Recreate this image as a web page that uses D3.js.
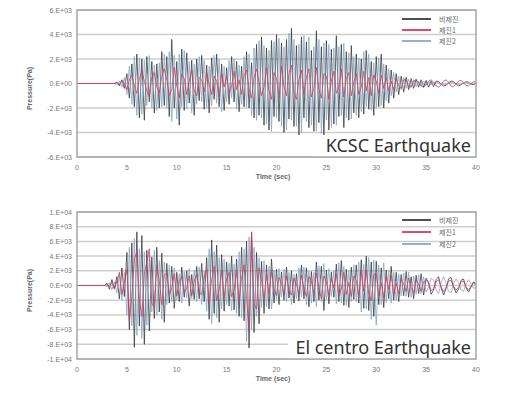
<!DOCTYPE html>
<html>
<head>
<meta charset="utf-8">
<script src="https://cdn.jsdelivr.net/npm/d3@7"></script>
<style>
  body { margin: 0; background: #fff; }
  text { font-family: "Liberation Sans", Arial, sans-serif; }
</style>
</head>
<body>
<div id="chart"></div>
<script>
// sample step of the digitised records (sec)
const DT = 0.25;

const seriesNames = ['비제진', '제진1', '제진2'];
const xTicks = [0, 5, 10, 15, 20, 25, 30, 35, 40];

// KCSC record, values in kPa (x1E+03 Pa)
const kcscTickVals = [6, 4, 2, 0, -2, -4, -6];
const kcscTickLabels = ['6.E+03', '4.E+03', '2.E+03', '0.E+00', '-2.E+03', '-4.E+03', '-6.E+03'];
const kcscBase = [
  0,0,0,0,0,0,0,0,0,0,0,0,0,0,0,0,
  0.1,-0.2,0.3,-0.4, 0.8,-1.2,1.6,-1.9, 2.4,-2.8,2.0,-3.0, 2.2,-1.5,1.8,-2.4,
  1.6,-2.0,2.6,-1.8, 2.2,-2.7,3.6,-2.0, 1.8,-3.4,2.8,-2.2, 2.5,-1.6,1.9,-2.6,
  2.0,-1.4,2.3,-2.1, 1.5,-2.4,2.1,-1.3, 2.4,-1.9,1.6,-2.2, 1.3,-1.7,2.2,-1.5,
  1.8,-2.3,1.4,-1.9, 2.6,-2.0,1.7,-2.8, 3.2,-2.6,3.8,-3.4, 2.9,-3.8,3.5,-2.7,
  4.0,-3.1,3.3,-4.0, 3.6,-2.9,4.5,-3.5, 3.1,-4.2,3.8,-2.8, 3.4,-3.6,2.7,-3.9,
  4.3,-3.2,3.0,-4.4, 3.5,-3.8,2.8,-3.3, 3.9,-2.7,3.2,-3.6, 2.6,-3.0,3.1,-2.4,
  2.4,-2.8,2.0,-2.5, 2.7,-2.1,1.8,-2.6, 2.2,-1.9,2.4,-2.0, 1.5,-1.6,1.1,-1.2,
  0.8,-0.9,0.6,-0.7, 0.5,-0.5,0.4,-0.4, 0.35,-0.3,0.3,-0.3, 0.25,-0.3,0.2,-0.25,
  0.2,0.15,-0.05,-0.2,-0.15,0.05,0.2,0.15,-0.05,-0.2,-0.1,0.05,0.15,0.1,-0.05,-0.1,0
];
const kcscCtrl1 = [
  0,0,0,0,0,0,0,0,0,0,0,0,0,0,0,0,
  0.1,-0.1,0.25,0.05, -0.5,0.3,0.7,-0.2, -0.8,0.4,1.0,0.2, -0.6,-1.1,0.5,0.9,
  -0.3,-0.8,0.6,1.2, 0.3,-1.0,-0.5,1.3, -0.2,-1.2,0.8,0.4, -0.9,0.2,1.1,-0.6,
  -1.0,0.5,0.3,-0.7, 0.9,-0.1,-0.9,0.6, 0.2,-1.1,0.8,-0.3, 0.6,-0.8,-0.2,1.0,
  -0.5,0.3,-0.9,0.7, 1.1,-0.4,-1.2,0.5, 1.2,0.1,-1.0,-0.3, 1.3,-0.6,-1.3,0.9,
  0.4,-1.2,1.4,-0.2, -1.0,0.8,1.5,-0.7, -1.3,0.3,1.1,-0.9, 0.5,1.2,-1.1,-0.4,
  1.3,-0.5,-1.2,0.8, 0.6,-1.3,0.2,1.0, -0.8,-0.3,1.2,-1.1, 0.4,0.9,-1.0,0.1,
  0.8,-0.9,-0.3,1.0, -0.6,0.5,-1.0,0.7, 0.2,-0.8,0.7,-0.4, 0.5,-0.6,0.2,-0.5,
  0.4,-0.2,-0.4,0.3, 0.3,-0.25,-0.3,0.2, 0.3,0.1,-0.2,-0.3, -0.1,0.2,0.3,0.1,
  -0.2,-0.3,-0.1,0.2,0.3,0.1,-0.2,-0.25,-0.05,0.2,0.25,0.05,-0.15,-0.2,0,0.15,0.1
];
const kcscCtrl2 = [
  0,0,0,0,0,0,0,0,0,0,0,0,0,0,0,0,
  -0.1,0.2,-0.3,0.5, -0.9,1.4,-1.7,2.2, -2.6,2.1,-2.5,1.9, -1.8,2.3,-2.0,1.5,
  -2.2,1.7,-1.9,2.4, -2.0,2.6,-3.1,2.3, -2.9,2.4,-1.9,2.7, -2.1,1.8,-2.4,1.6,
  -1.7,2.2,-1.5,1.9, -2.0,1.4,-1.8,2.3, -1.6,2.0,-2.3,1.4, -1.5,1.9,-1.2,2.0,
  -2.1,1.5,-1.7,2.2, -1.9,2.4,-2.6,2.9, -3.0,3.5,-2.8,3.1, -3.3,2.7,-3.9,3.4,
  -2.8,3.7,-3.5,3.0, -3.8,4.1,-3.0,3.6, -3.5,3.2,-4.0,3.9, -3.1,3.8,-3.4,3.0,
  -3.9,3.6,-4.1,3.3, -3.0,3.2,-3.6,2.9, -3.4,3.0,-2.6,3.3, -2.8,2.5,-2.9,2.2,
  -2.6,2.1,-2.3,2.6, -1.9,2.4,-2.2,1.7, -2.0,2.1,-1.8,1.6, -1.4,1.2,-1.0,0.9,
  -0.7,0.6,-0.5,0.5, -0.4,0.35,-0.3,0.3, -0.25,0.2,-0.2,0.2, -0.15,0.15,-0.1,0.1,
  0.1,0.05,-0.05,-0.1,-0.05,0.05,0.1,0.05,-0.05,-0.1,-0.05,0.05,0.1,0.05,0,-0.05,0
];

// El centro record, values in kPa
const elcTickVals = [10, 8, 6, 4, 2, 0, -2, -4, -6, -8, -10];
const elcTickLabels = ['1.E+04', '8.E+03', '6.E+03', '4.E+03', '2.E+03', '0.E+00',
  '-2.E+03', '-4.E+03', '-6.E+03', '-8.E+03', '-1.E+04'];
const elcBase = [
  0,0,0,0,0,0,0,0,0,0,0,0,
  0.3,-0.5,0.8,-0.4, 1.2,-1.8,2.4,-1.5, 4.5,-6.0,5.8,-8.4, 7.3,-5.5,6.8,-8.0,
  4.8,-6.2,3.9,-4.5, 5.2,-3.6,4.4,-5.0, 3.0,-2.4,2.6,-3.1, 1.8,-2.2,2.5,-1.6,
  2.0,-2.8,1.5,-1.9, 2.6,-1.8,3.0,-2.2, 3.8,-4.6,6.2,-3.8, 5.5,-5.0,4.2,-3.5,
  3.2,-2.8,4.0,-3.3, 3.6,-4.2,5.2,-4.8, 6.0,-8.5,7.3,-6.4, 4.5,-5.2,3.3,-3.8,
  2.8,-3.2,3.6,-2.4, 2.2,-2.6,1.8,-2.0, 2.5,-1.7,2.0,-2.4, 1.6,-2.1,2.8,-1.8,
  2.4,-2.9,1.9,-2.2, 3.2,-2.0,2.6,-3.4, 2.1,-2.5,1.8,-1.6, 2.9,-2.2,3.4,-2.7,
  2.2,-3.0,2.5,-1.9, 2.8,-2.4,3.5,-3.1, 4.0,-3.4,3.2,-4.2, 3.3,-2.6,2.4,-3.0,
  2.1,-1.8,2.6,-2.0, 1.8,-2.2,1.5,-1.4, 1.9,-1.6,1.2,-1.8, 1.4,-1.1,1.6,-1.3,
  1.0,0.4,-1.2,-0.6, 0.8,1.2,-0.3,-1.3, -0.4,0.9,1.1,-0.2, -1.0,-0.5,0.7,0.9,
  -0.3,-0.9,-0.2,0.5, 0.2
];
const elcCtrl1 = [
  0,0,0,0,0,0,0,0,0,0,0,0,
  0.2,-0.1,0.4,-0.5, 0.6,1.8,-1.2,0.4, 2.2,-4.8,-1.5,3.6, 4.6,-2.0,-4.2,1.5,
  3.2,5.0,-2.4,-3.0, 2.8,0.6,-2.6,1.4, 1.8,-1.2,-0.4,1.6, -1.4,0.5,1.2,-1.0,
  -0.3,1.3,-1.4,0.6, 1.5,-0.8,-1.3,1.1, 2.2,-2.4,0.8,2.6, -2.1,-0.6,2.0,-1.7,
  0.9,1.8,-1.5,-0.6, 2.0,-2.3,1.0,2.8, -1.8,-6.0,7.2,-2.5, -3.2,2.4,0.8,-2.0,
  1.6,-1.2,1.9,-0.5, -1.4,1.1,0.3,-1.2, 1.3,-0.6,-1.3,1.0, 0.2,-1.2,1.4,-0.4,
  -1.5,1.2,0.6,-1.1, 1.7,-0.4,-1.8,1.3, 0.5,-1.3,1.0,-0.3, 1.6,-1.5,-0.5,1.8,
  -1.2,0.4,-1.5,1.3, 0.7,-1.6,1.9,-0.8, 2.0,-1.1,-2.1,1.5, 1.6,-1.4,0.4,-1.7,
  1.2,-0.5,1.4,-1.2, 0.3,-1.1,0.9,0.2, -0.8,1.0,-0.4,-1.0, 0.8,0.2,-0.8,0.5,
  0.7,0.3,-0.7,-0.4, 0.5,0.8,-0.2,-0.8, -0.3,0.6,0.7,-0.1, -0.6,-0.3,0.5,0.6,
  -0.2,-0.6,-0.1,0.3, 0.1
];
const elcCtrl2 = [
  0,0,0,0,0,0,0,0,0,0,0,0,
  -0.2,0.4,-0.6,0.5, -1.0,1.5,-2.0,1.8, -4.0,5.2,-5.5,6.4, -6.8,5.0,-7.2,4.6,
  -5.4,4.2,-3.6,4.8, -4.0,3.4,-4.6,3.2, -2.6,2.8,-2.2,2.4, -2.0,1.6,-2.4,1.9,
  -1.7,2.3,-1.8,2.1, -2.2,2.5,-2.6,2.0, -3.5,5.0,-5.2,4.6, -4.4,3.8,-3.2,3.6,
  -2.6,3.0,-3.4,2.9, -3.8,4.6,-4.4,5.0, -7.6,6.6,-6.0,5.2, -4.2,3.8,-3.0,3.4,
  -2.9,2.6,-3.2,2.1, -1.9,2.3,-1.6,2.2, -2.2,1.8,-2.6,1.5, -1.8,2.4,-1.6,2.5,
  -2.6,2.0,-2.4,1.8, -2.9,2.7,-2.2,3.0, -1.9,2.3,-1.5,2.0, -2.5,3.1,-2.4,2.6,
  -2.7,2.0,-2.2,2.8, -2.2,3.2,-3.6,2.9, -3.2,3.8,-4.6,3.5, -5.4,2.8,-2.6,3.1,
  -2.3,2.0,-2.4,1.8, -2.0,1.6,-1.4,1.7, -1.5,1.8,-1.6,1.3, -1.2,1.5,-1.1,1.2,
  -0.9,-0.2,1.0,0.7, -0.6,-1.1,0.4,1.2, 0.3,-0.8,-1.0,0.3, 0.9,0.4,-0.6,-0.8,
  0.2,0.8,0.3,-0.4, -0.2
];

const WIDTH = 509, HEIGHT = 395;
const COLORS = ['#3c3c3c', '#d9385a', '#86aacb'];

const svg = d3.select('#chart').append('svg')
  .attr('width', WIDTH)
  .attr('height', HEIGHT);

function drawPanel(cfg) {
  const x = d3.scaleLinear().domain([0, 40]).range([77, 476]);
  const y = d3.scaleLinear().domain(cfg.domain).range([cfg.bottom, cfg.top]);
  const g = svg.append('g');

  // horizontal grid
  g.selectAll('line.grid')
    .data(cfg.ticks)
    .enter().append('line')
    .attr('x1', x(0)).attr('x2', x(40))
    .attr('y1', d => y(d)).attr('y2', d => y(d))
    .attr('stroke', '#cdcdcd')
    .attr('stroke-width', 1.5);

  const line = d3.line()
    .x((d, i) => x(i * DT))
    .y(d => y(d));

  // draw order: base, ctrl2, ctrl1 on top
  [[cfg.series[0], COLORS[0], 0.8, 1],
   [cfg.series[2], COLORS[2], 0.9, 0.9],
   [cfg.series[1], COLORS[1], 0.8, 1]].forEach(s => {
    g.append('path')
      .datum(s[0])
      .attr('d', line)
      .attr('fill', 'none')
      .attr('stroke', s[1])
      .attr('stroke-width', s[2])
      .attr('stroke-opacity', s[3]);
  });

  // caption box
  g.append('rect')
    .attr('x', cfg.capX - 4).attr('y', cfg.bottom - 22)
    .attr('width', x(40) - cfg.capX + 4).attr('height', 22)
    .attr('fill', '#fff');
  g.append('text')
    .attr('x', x(40) - 5).attr('y', cfg.bottom - 5)
    .attr('text-anchor', 'end')
    .style('font-family', '"Noto Sans", "Open Sans", sans-serif')
    .style('font-size', '18px')
    .attr('fill', '#333')
    .text(cfg.caption);

  // frame
  g.append('rect')
    .attr('x', x(0)).attr('y', cfg.top)
    .attr('width', x(40) - x(0)).attr('height', cfg.bottom - cfg.top)
    .attr('fill', 'none')
    .attr('stroke', '#a6a6a6')
    .attr('stroke-width', 1.5);

  // y tick labels
  g.selectAll('text.ytick')
    .data(cfg.ticks)
    .enter().append('text')
    .attr('x', 72).attr('y', d => y(d) + 2.5)
    .attr('text-anchor', 'end')
    .style('font-size', '7px')
    .attr('fill', '#777')
    .text((d, i) => cfg.tickLabels[i]);

  // x tick labels
  g.selectAll('text.xtick')
    .data(xTicks)
    .enter().append('text')
    .attr('x', d => x(d)).attr('y', cfg.bottom + 13)
    .attr('text-anchor', 'middle')
    .style('font-size', '7px')
    .attr('fill', '#777')
    .text(d => d);

  g.append('text')
    .attr('x', 273).attr('y', cfg.bottom + 22)
    .attr('text-anchor', 'middle')
    .style('font-size', '7px')
    .style('font-weight', 'bold')
    .attr('fill', '#666')
    .text('Time (sec)');

  const mid = (cfg.top + cfg.bottom) / 2;
  g.append('text')
    .attr('transform', `translate(32,${mid + 5}) rotate(-90)`)
    .attr('text-anchor', 'middle')
    .style('font-size', '7px')
    .style('font-weight', 'bold')
    .attr('fill', '#666')
    .text('Pressure(Pa)');

  // legend
  seriesNames.forEach((name, i) => {
    const ly = cfg.legendY[i];
    g.append('line')
      .attr('x1', 402).attr('x2', 431)
      .attr('y1', ly).attr('y2', ly)
      .attr('stroke', COLORS[i])
      .attr('stroke-width', 1.8);
    g.append('text')
      .attr('x', 439).attr('y', ly + 2.5)
      .style('font-family', '"Noto Sans CJK KR", sans-serif')
      .style('font-size', '7px')
      .attr('fill', '#666')
      .text(name);
  });
}

drawPanel({
  domain: [-6, 6], top: 10, bottom: 157,
  ticks: kcscTickVals, tickLabels: kcscTickLabels,
  series: [kcscBase, kcscCtrl1, kcscCtrl2],
  caption: 'KCSC Earthquake', capX: 320,
  legendY: [19, 30, 41]
});

drawPanel({
  domain: [-10, 10], top: 212, bottom: 359,
  ticks: elcTickVals, tickLabels: elcTickLabels,
  series: [elcBase, elcCtrl1, elcCtrl2],
  caption: 'El centro Earthquake', capX: 292,
  legendY: [220, 232, 244]
});
</script>
</body>
</html>
